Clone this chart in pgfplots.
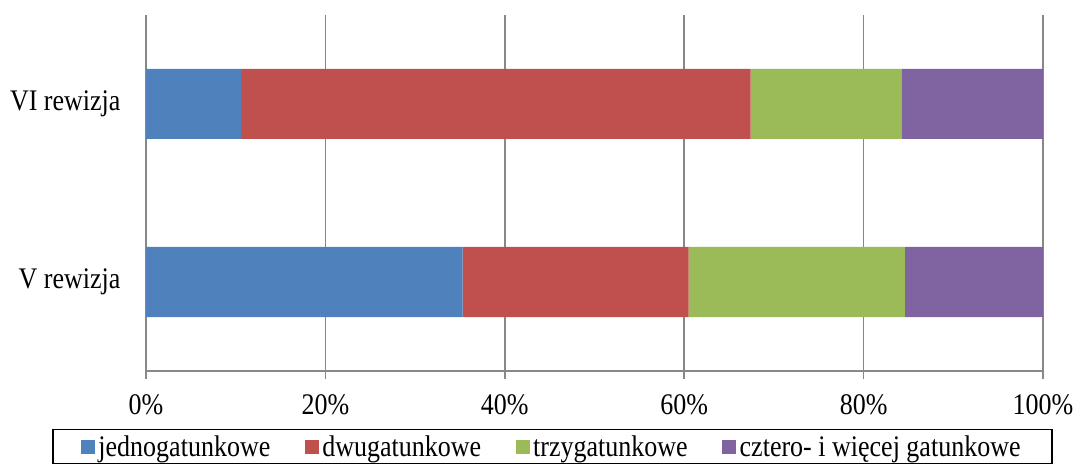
\documentclass[border=0pt]{standalone}
\usepackage{pgfplots}
\pgfplotsset{compat=1.18}
\usepackage{fontspec}
\setmainfont[FakeStretch=0.87]{Liberation Serif}
\definecolor{cblue}{HTML}{4F81BD}
\definecolor{cred}{HTML}{C0504D}
\definecolor{cgreen}{HTML}{9BBB59}
\definecolor{cpurple}{HTML}{8064A2}
\definecolor{cgrid}{HTML}{888888}
\begin{document}
\begin{tikzpicture}
\begin{axis}[
  name=ax,
  scale only axis,
  width=897bp, height=356bp,
  xbar stacked,
  bar width=70bp,
  xmin=0, xmax=100,
  ymin=-0.5, ymax=1.5,
  axis x line=bottom, axis y line=left,
  axis line style={cgrid, line width=1.5bp, -},
  xtick={0,20,40,60,80,100},
  xticklabel={\pgfmathprintnumber{\tick}\%},
  /pgf/number format/assume math mode=true,
  xmajorgrids,
  major grid style={cgrid, line width=1.5bp},
  ytick={0,1},
  yticklabels={V rewizja, VI rewizja},
  minor ytick={-0.5,0.5,1.5},
  tick align=outside,
  major tick length=8bp,
  minor tick length=7bp,
  tick style={cgrid, line width=1.5bp},
  ytick style={draw=none},
  minor tick style={cgrid, line width=1.5bp, draw=cgrid},
  ticklabel style={font=\fontsize{30}{34}\selectfont, text=black},
  xticklabel style={yshift=-12bp},
  yticklabel style={xshift=-14bp},
  legend columns=4,
  legend style={
    at={(0.5,0)}, anchor=north, xshift=-42bp, yshift=-58bp,
    draw=black, line width=1.2bp,
    font=\fontsize{30}{34}\selectfont,
    inner xsep=28bp, inner ysep=4bp,
    /tikz/every even column/.append style={column sep=31bp},
    nodes={inner xsep=3.5bp},
  },
  legend image code/.code={\fill[#1] (0bp,-7bp) rectangle (14bp,7bp);},
]
\addplot+[draw=none, fill=cblue] coordinates {(35.3,0) (10.6,1)};
\addplot+[draw=none, fill=cred] coordinates {(25.2,0) (56.8,1)};
\addplot+[draw=none, fill=cgreen] coordinates {(24.1,0) (16.8,1)};
\addplot+[draw=none, fill=cpurple] coordinates {(15.4,0) (15.8,1)};
\legend{jednogatunkowe, dwugatunkowe, trzygatunkowe, cztero- i więcej gatunkowe}
\end{axis}
\pgfresetboundingbox
\path ([shift={(-146bp,-94bp)}]ax.south west) rectangle ([shift={(30bp,15bp)}]ax.north east);
\end{tikzpicture}
\end{document}
